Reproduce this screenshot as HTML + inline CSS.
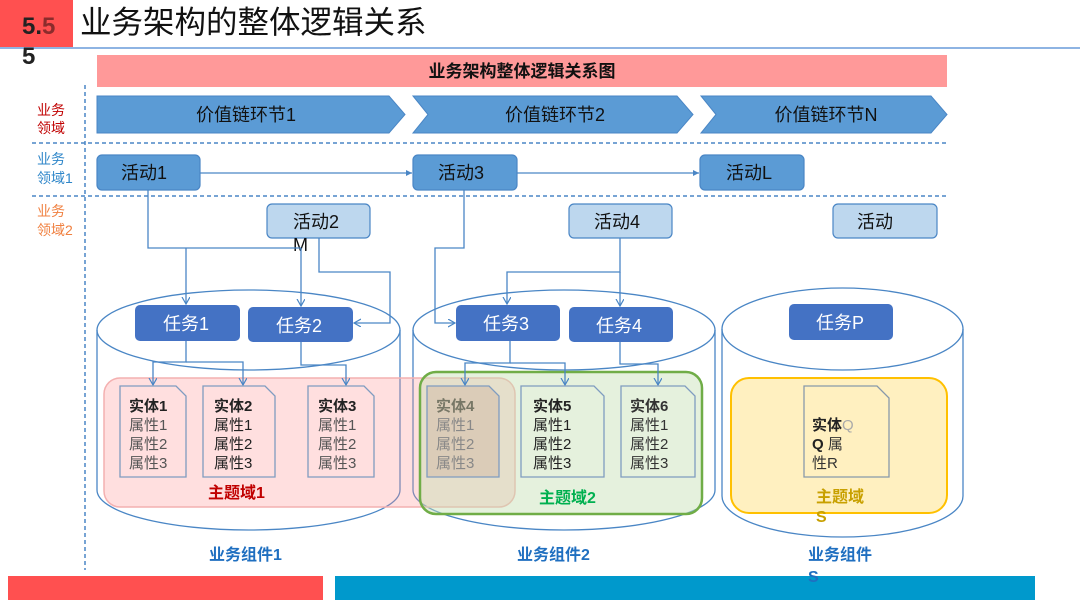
<!DOCTYPE html>
<html><head><meta charset="utf-8"><style>
body{margin:0;width:1080px;height:608px;overflow:hidden;background:#fff;font-family:"Liberation Sans","Noto Sans CJK SC",sans-serif}
svg text{font-family:"Liberation Sans","Noto Sans CJK SC",sans-serif}
</style></head><body>
<svg width="1080" height="608" viewBox="0 0 1080 608" xmlns="http://www.w3.org/2000/svg">
<defs>
<marker id="a" markerWidth="10" markerHeight="10" refX="7" refY="4" orient="auto" markerUnits="userSpaceOnUse"><path d="M0,0 L7,4 L0,8" fill="none" stroke="#4a86c5" stroke-width="1.2"/></marker>
<marker id="f" markerWidth="10" markerHeight="10" refX="6" refY="3" orient="auto" markerUnits="userSpaceOnUse"><path d="M0,0 L6,3 L0,6 Z" fill="#4a86c5"/></marker>
</defs>
<!-- header -->
<rect x="0" y="0" width="73" height="47" fill="#ff5050"/>
<line x1="0" y1="48" x2="1080" y2="48" stroke="#8eb4e3" stroke-width="2"/>
<text x="22" y="34" font-size="24" font-weight="bold" fill="#222">5.<tspan fill="#8b2c2c">5</tspan></text>
<text x="22" y="64" font-size="24" font-weight="bold" fill="#222">5</text>
<text x="80" y="33" font-size="31.5" fill="#111">业务架构的整体逻辑关系</text>
<rect x="97" y="55" width="850" height="32" fill="#ff9999"/>
<text x="522" y="77" font-size="17" font-weight="bold" text-anchor="middle" fill="#111">业务架构整体逻辑关系图</text>
<!-- dashed -->
<line x1="85" y1="85" x2="85" y2="570" stroke="#4a86c5" stroke-width="1.5" stroke-dasharray="4,3"/>
<line x1="32" y1="143" x2="947" y2="143" stroke="#4a86c5" stroke-width="1.5" stroke-dasharray="4,3"/>
<line x1="32" y1="196" x2="947" y2="196" stroke="#4a86c5" stroke-width="1.5" stroke-dasharray="4,3"/>
<text font-size="14" fill="#c00000"><tspan x="37" y="115">业务</tspan><tspan x="37" y="133">领域</tspan></text>
<text font-size="14" fill="#2e86c9"><tspan x="37" y="164">业务</tspan><tspan x="37" y="183">领域1</tspan></text>
<text font-size="14" fill="#f08040"><tspan x="37" y="216">业务</tspan><tspan x="37" y="235">领域2</tspan></text>
<!-- chevrons -->
<polygon points="97,96 389,96 405,114.5 389,133 97,133" fill="#5b9bd5" stroke="#4a86c5"/>
<polygon points="413,96 677,96 693,114.5 677,133 413,133 428,114.5" fill="#5b9bd5" stroke="#4a86c5"/>
<polygon points="701,96 931,96 947,114.5 931,133 701,133 716,114.5" fill="#5b9bd5" stroke="#4a86c5"/>
<text x="246" y="121" font-size="18" text-anchor="middle" fill="#111">价值链环节1</text>
<text x="555" y="121" font-size="18" text-anchor="middle" fill="#111">价值链环节2</text>
<text x="826" y="121" font-size="18" text-anchor="middle" fill="#111">价值链环节N</text>
<!-- activities -->
<g stroke="#4a86c5" stroke-width="1.2">
<rect x="97" y="155" width="103" height="35" rx="5" fill="#5b9bd5"/>
<rect x="413" y="155" width="104" height="35" rx="5" fill="#5b9bd5"/>
<rect x="700" y="155" width="104" height="35" rx="5" fill="#5b9bd5"/>
<rect x="267" y="204" width="103" height="34" rx="5" fill="#bdd7ee"/>
<rect x="569" y="204" width="103" height="34" rx="5" fill="#bdd7ee"/>
<rect x="833" y="204" width="104" height="34" rx="5" fill="#bdd7ee"/>
</g>
<g font-size="18" fill="#111">
<text x="121" y="179">活动1</text><text x="438" y="179">活动3</text><text x="726" y="179">活动L</text>
<text x="293" y="228">活动2</text><text x="293" y="251">M</text><text x="594" y="228">活动4</text><text x="857" y="228">活动</text>
</g>
<!-- cylinders -->
<g fill="none" stroke="#4a86c5" stroke-width="1.3">
<path d="M97,330 L97,490 A151.5,40 0 0 0 400,490 L400,330"/>
<ellipse cx="248.5" cy="330" rx="151.5" ry="40"/>
<path d="M413,330 L413,490 A151,40 0 0 0 715,490 L715,330"/>
<ellipse cx="564" cy="330" rx="151" ry="40"/>
<path d="M722,329 L722,496 A120.5,41 0 0 0 963,496 L963,329"/>
<ellipse cx="842.5" cy="329" rx="120.5" ry="41"/>
</g>
<!-- regions -->
<rect x="104" y="378" width="411" height="129" rx="16" fill="rgba(255,150,150,0.3)" stroke="#f4b0b0" stroke-width="1.5"/>
<rect x="420" y="372" width="282" height="142" rx="16" fill="rgba(197,224,180,0.45)" stroke="#70ad47" stroke-width="2.5"/>
<rect x="731" y="378" width="216" height="135" rx="18" fill="#fff0c0" stroke="#ffc000" stroke-width="2"/>
<!-- tasks -->
<g fill="#4472c4">
<rect x="135" y="305" width="105" height="36" rx="5"/>
<rect x="248" y="307" width="105" height="35" rx="5"/>
<rect x="456" y="305" width="104" height="36" rx="5"/>
<rect x="569" y="307" width="104" height="35" rx="5"/>
<rect x="789" y="304" width="104" height="36" rx="5"/>
</g>
<g font-size="18" fill="#fff">
<text x="163" y="330">任务1</text><text x="276" y="332">任务2</text><text x="483" y="330">任务3</text><text x="596" y="332">任务4</text><text x="816" y="329">任务P</text>
</g>
<!-- connectors -->
<g fill="none" stroke="#4a86c5" stroke-width="1.3">
<line x1="200" y1="173" x2="412" y2="173" marker-end="url(#f)"/>
<line x1="517" y1="173" x2="699" y2="173" marker-end="url(#f)"/>
<polyline points="148,190 148,248 301,248"/>
<line x1="186" y1="248" x2="186" y2="304" marker-end="url(#a)"/>
<line x1="301" y1="248" x2="301" y2="306" marker-end="url(#a)"/>
<polyline points="319,238 319,272 390,272 390,323 354,323" marker-end="url(#a)"/>
<polyline points="464,190 464,248 435,248 435,323 455,323" marker-end="url(#a)"/>
<polyline points="620,238 620,272 507,272 507,304" marker-end="url(#a)"/>
<line x1="620" y1="272" x2="620" y2="306" marker-end="url(#a)"/>
<polyline points="186,341 186,362 153,362 153,385" marker-end="url(#a)"/>
<polyline points="186,362 243,362 243,385" marker-end="url(#a)"/>
<polyline points="301,342 301,365 346,365 346,385" marker-end="url(#a)"/>
<polyline points="510,341 510,363 465,363 465,385" marker-end="url(#a)"/>
<polyline points="510,363 565,363 565,385" marker-end="url(#a)"/>
<polyline points="620,342 620,364 658,364 658,385" marker-end="url(#a)"/>
</g>
<!-- entities -->
<g stroke="#7f9cc0" stroke-width="1.3" fill="none">
<path d="M120,386 L176,386 L186,396 L186,477 L120,477 Z"/>
<path d="M203,386 L265,386 L275,396 L275,477 L203,477 Z"/>
<path d="M308,386 L364,386 L374,396 L374,477 L308,477 Z"/>
<path d="M427,386 L489,386 L499,396 L499,477 L427,477 Z" fill="rgba(200,170,150,0.35)"/>
<path d="M521,386 L594,386 L604,396 L604,477 L521,477 Z"/>
<path d="M621,386 L685,386 L695,396 L695,477 L621,477 Z"/>
<path d="M804,386 L877,386 L889,398 L889,477 L804,477 Z" stroke="#8899aa"/>
</g>
<g font-size="15">
<text fill="#555"><tspan x="129" y="411" font-weight="bold" fill="#222">实体1</tspan><tspan x="129" y="430">属性1</tspan><tspan x="129" y="449">属性2</tspan><tspan x="129" y="468">属性3</tspan></text>
<text fill="#222"><tspan x="214" y="411" font-weight="bold">实体2</tspan><tspan x="214" y="430">属性1</tspan><tspan x="214" y="449">属性2</tspan><tspan x="214" y="468">属性3</tspan></text>
<text fill="#555"><tspan x="318" y="411" font-weight="bold" fill="#222">实体3</tspan><tspan x="318" y="430">属性1</tspan><tspan x="318" y="449">属性2</tspan><tspan x="318" y="468">属性3</tspan></text>
<text fill="#888"><tspan x="436" y="411" font-weight="bold" fill="#776">实体4</tspan><tspan x="436" y="430">属性1</tspan><tspan x="436" y="449">属性2</tspan><tspan x="436" y="468">属性3</tspan></text>
<text fill="#222"><tspan x="533" y="411" font-weight="bold">实体5</tspan><tspan x="533" y="430">属性1</tspan><tspan x="533" y="449">属性2</tspan><tspan x="533" y="468">属性3</tspan></text>
<text fill="#333"><tspan x="630" y="411" font-weight="bold">实体6</tspan><tspan x="630" y="430">属性1</tspan><tspan x="630" y="449">属性2</tspan><tspan x="630" y="468">属性3</tspan></text>
<text fill="#333"><tspan x="812" y="430" font-weight="bold" fill="#222">实体</tspan><tspan fill="#aaa">Q</tspan><tspan x="812" y="449" font-weight="bold" fill="#222">Q</tspan><tspan> 属</tspan><tspan x="812" y="468">性R</tspan></text>
</g>
<g font-size="16" font-weight="bold">
<text x="208" y="498" fill="#c00000">主题域1</text>
<text x="539" y="503" fill="#00b050">主题域2</text>
<text x="816" y="502" fill="#c8a000">主题域</text><text x="816" y="522" fill="#c8a000">S</text>
<text x="209" y="560" fill="#1f6fc0">业务组件1</text>
<text x="517" y="560" fill="#1f6fc0">业务组件2</text>
<text x="808" y="560" fill="#1f6fc0">业务组件</text>
</g>
<rect x="8" y="576" width="315" height="24" fill="#ff5050"/>
<rect x="335" y="576" width="700" height="24" fill="#0099cc"/>
<text x="808" y="582" font-size="16" font-weight="bold" fill="#1f6fc0">S</text>
</svg>
</body></html>
